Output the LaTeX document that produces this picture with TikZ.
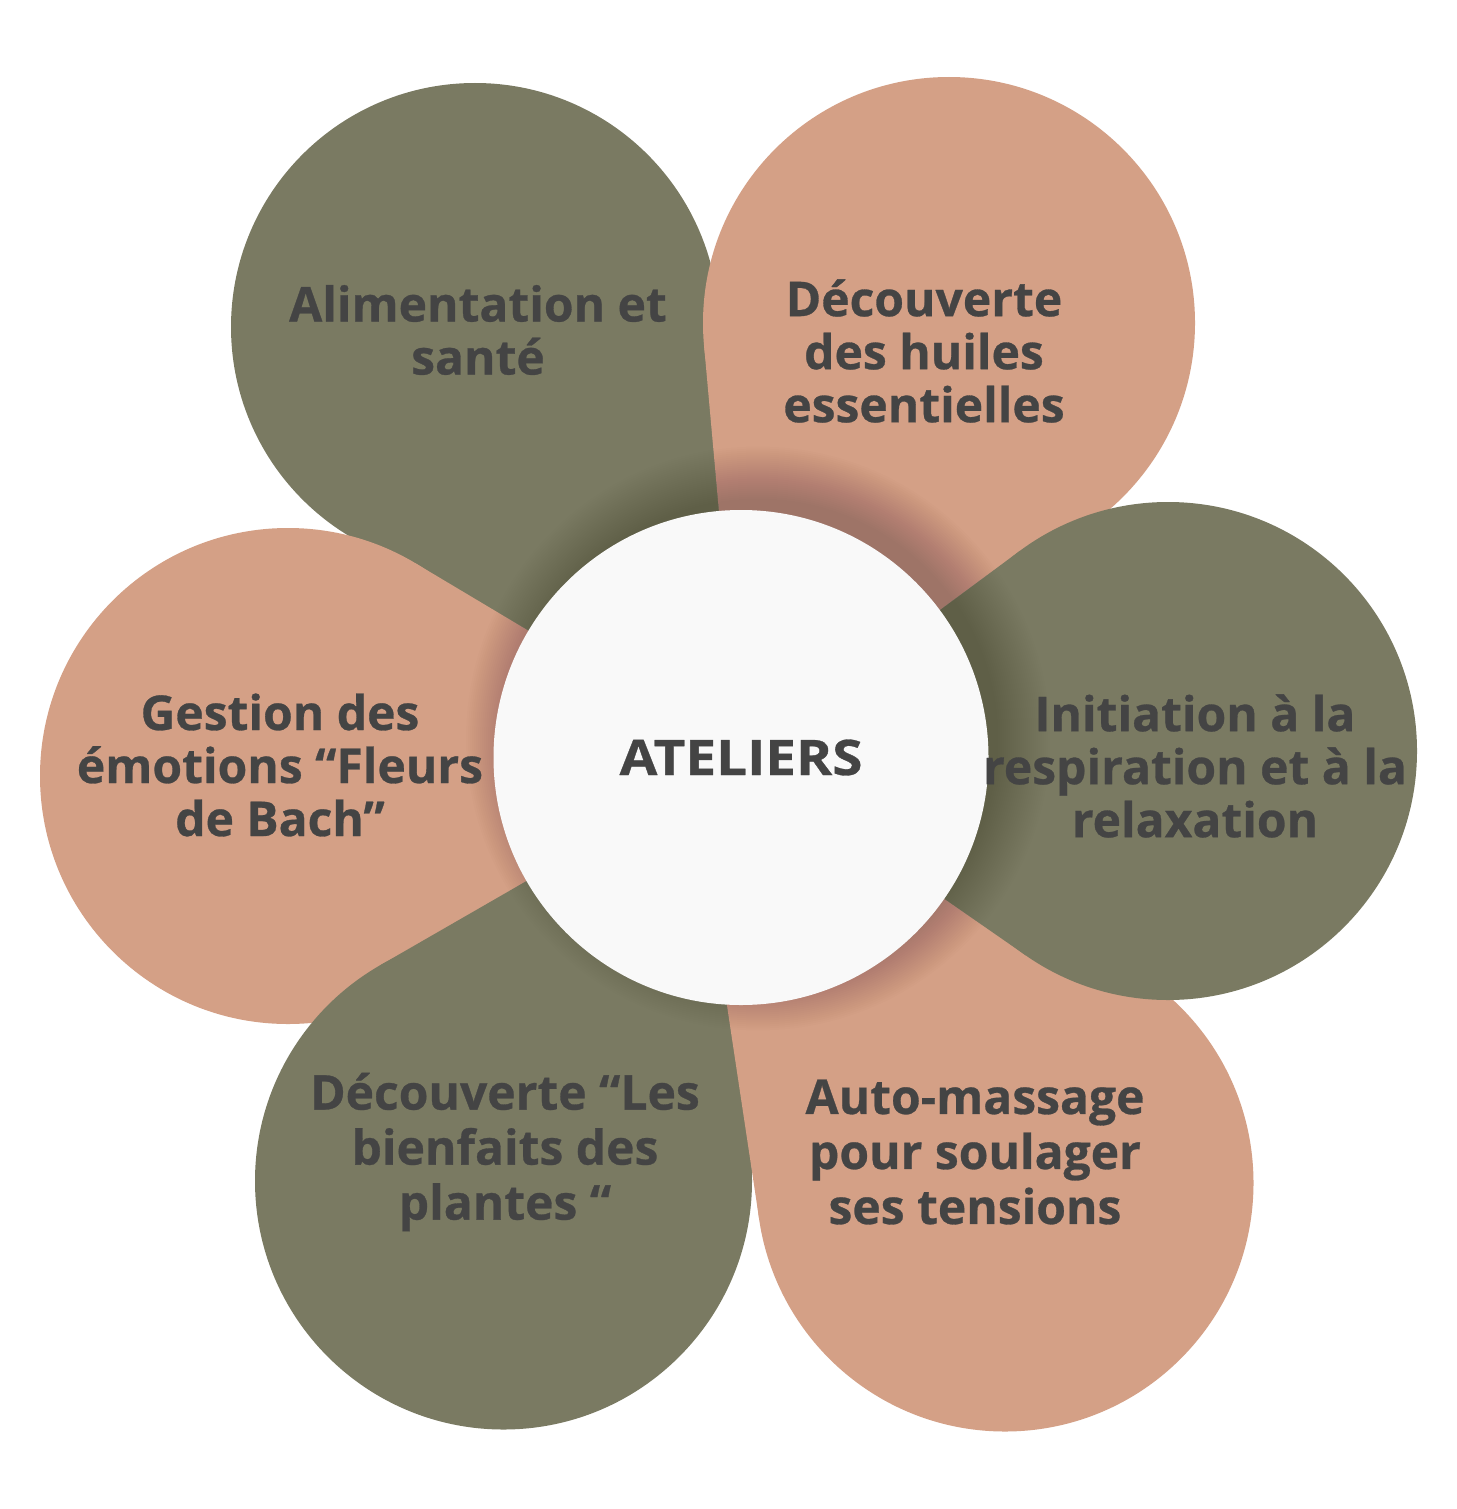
\documentclass[tikz,border=0pt]{standalone}
\usepackage{fontspec}
\setmainfont{Open Sans}[BoldFeatures={FakeBold=0.6}]
\usetikzlibrary{calc}
\definecolor{petalgreen}{HTML}{7A7A62}
\definecolor{petaltan}{HTML}{D4A086}
\definecolor{centerfill}{HTML}{F9F9F9}
\definecolor{textgray}{HTML}{444444}
\begin{document}
\begin{tikzpicture}[x=1pt,y=-1pt,
  petaltext/.style={font=\fontsize{48}{53}\selectfont\bfseries, text=textgray, align=center, inner sep=0pt},
  petalcircle/.style={circle, inner sep=0pt, outer sep=0pt}]
\path[use as bounding box, fill=white] (0,0) rectangle (1456,1509);
\coordinate (T) at (741,757.5);
\coordinate (sh) at (758,738.5);
% petals (drawing order gives the overlaps): name/x/y/radius/colour/tip
\foreach \n/\px/\py/\r/\c/\tx/\ty in {p1/475/327/244/petalgreen/741/757.5, p2/949/323/246/petaltan/741/757.5, p6/288/776/248/petaltan/741/757.5, p5/503.5/1181/248.5/petalgreen/741/757.5, p4/1005/1183/248.5/petaltan/690/760, p3/1168/751/249/petalgreen/741/757.5}{
  \node[petalcircle, fill=\c, minimum size={2*\r}] (\n) at (\px,\py) {};
  \coordinate (\n tip) at (\tx,\ty);
  \fill[\c] (\n tip) -- (tangent cs:node=\n,point={(\n tip)},solution=1) -- (tangent cs:node=\n,point={(\n tip)},solution=2) -- cycle;
}
% soft shadow of the centre disc
\foreach \k in {0,...,26}{
  \fill[black, opacity=0.007] (sh) circle ({240+2*\k});
}
% centre
\node[petalcircle, fill=centerfill, minimum size=495, font=\fontsize{49}{52}\selectfont\bfseries, text=textgray] (c) at (T) {\scalebox{1.12}[1]{ATELIERS}};
% labels
\node[petaltext] (t1) at (478,330) {Alimentation et\\santé};
\node[petaltext] (t2) at (924,351) {Découverte\\des huiles\\essentielles};
\node[petaltext] (t3) at (1195,766) {Initiation à la\\respiration et à la\\relaxation};
\node[petaltext, font=\fontsize{48}{55}\selectfont\bfseries] (t4) at (975,1152) {Auto-massage\\pour soulager\\ses tensions};
\node[petaltext, font=\fontsize{48}{55}\selectfont\bfseries] (t5) at (505,1152) {Découverte “Les\\bienfaits des\\plantes “};
\node[petaltext] (t6) at (280,765) {Gestion des\\émotions “Fleurs\\de Bach”};
\end{tikzpicture}
\end{document}
